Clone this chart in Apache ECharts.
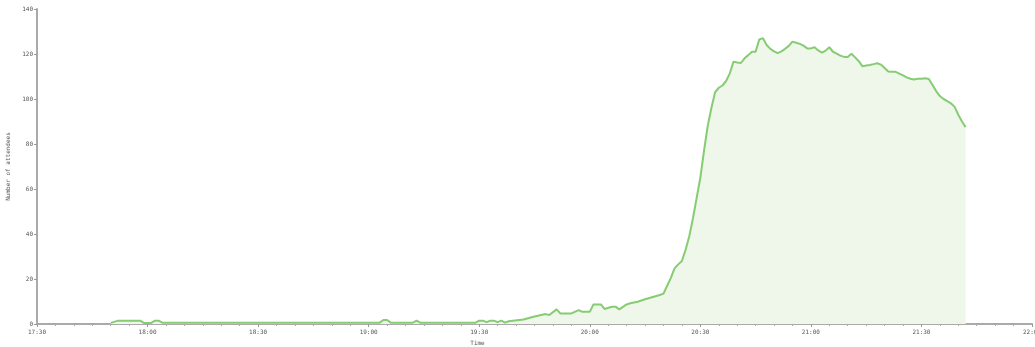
<!DOCTYPE html>
<html>
<head>
<meta charset="utf-8">
<script src="https://cdn.jsdelivr.net/npm/echarts@6/dist/echarts.min.js"></script>
<style>html,body{margin:0;padding:0;background:#fff}#c{width:1035px;height:347px}</style>
</head>
<body>
<div id="c"></div>
<script>
const times = ["17:50","17:52","17:58","17:59","18:01","18:02","18:03","18:04","18:20","18:40","19:00","19:03","19:04","19:05","19:06","19:12","19:13","19:14","19:20","19:29","19:30","19:31","19:32","19:33","19:34","19:35","19:36","19:37","19:38","19:42","19:45","19:48","19:49","19:51","19:52","19:55","19:57","19:58","20:00","20:01","20:03","20:04","20:06","20:07","20:08","20:10","20:11","20:13","20:15","20:19","20:20","20:21","20:22","20:23","20:24","20:25","20:26","20:27","20:28","20:29","20:30","20:31","20:32","20:33","20:34","20:35","20:36","20:37","20:38","20:39","20:40","20:41","20:42","20:43","20:44","20:45","20:46","20:47","20:48","20:49","20:50","20:51","20:52","20:53","20:54","20:55","20:56","20:57","20:58","20:59","21:00","21:01","21:02","21:03","21:04","21:05","21:06","21:07","21:08","21:09","21:10","21:11","21:12","21:13","21:14","21:15","21:16","21:17","21:18","21:19","21:20","21:21","21:22","21:23","21:24","21:25","21:26","21:27","21:28","21:29","21:30","21:31","21:32","21:33","21:34","21:35","21:36","21:37","21:38","21:39","21:40","21:41","21:42"];
const attendees = [0.5,1.5,1.5,0.5,0.5,1.5,1.5,0.6,0.6,0.6,0.6,0.6,1.8,1.8,0.6,0.6,1.5,0.6,0.6,0.6,1.5,1.5,0.8,1.5,1.5,0.8,1.5,0.6,1.2,2,3.3,4.4,4.0,6.5,4.7,4.7,6.2,5.4,5.4,8.7,8.7,6.7,7.7,7.7,6.5,8.7,9.2,9.9,11,12.9,13.5,17,20.5,24.7,26.5,28,33,39,47,56,65,77,88,96,103,105,106,108,111.4,116.6,116.2,116,118.1,119.5,121,121,126.5,127,124,122.3,121.2,120.4,121.2,122.3,123.6,125.5,125,124.5,123.7,122.5,122.5,123,121.6,120.6,121.5,123,121,120.2,119.3,118.7,118.7,120.1,118.5,116.8,114.5,114.9,115.1,115.5,115.9,115.3,113.8,112.2,112.1,112.1,111.3,110.5,109.6,109.0,108.7,109,109,109.2,108.9,106.2,103.5,101.3,100,99.1,98.1,96.5,93,90,87.5];
const yTicks = [0,20,40,60,80,100,120,140];

function toMin(s){const p=s.split(':');return (+p[0])*60+(+p[1]);}
function fmt(v){const h=Math.floor(v/60),m=v%60;return (h<10?'0':'')+h+':'+(m<10?'0':'')+m;}

const chart = echarts.init(document.getElementById('c'));
const lbl = {fontFamily:'DejaVu Sans Mono', fontSize:6, color:'#555'};
chart.setOption({
  animation:false,
  grid:{left:37,right:3,top:9,bottom:23,containLabel:false,outerBoundsMode:'none'},
  xAxis:{
    type:'value', min:toMin('17:30'), max:toMin('22:00'), interval:30,
    name:'Time', nameLocation:'middle', nameGap:16,
    nameTextStyle:Object.assign({}, lbl, {padding:[0,114,0,0]}),
    axisLine:{lineStyle:{color:'#aaa',width:2}},
    axisTick:{show:true,length:3,lineStyle:{color:'#999'}},
    minorTick:{show:true,splitNumber:6,length:2,lineStyle:{color:'#aaa'}},
    axisLabel:Object.assign({margin:5,formatter:fmt}, lbl),
    splitLine:{show:false}
  },
  yAxis:{
    type:'value', min:yTicks[0], max:yTicks[yTicks.length-1], interval:20,
    name:'Number of attendees', nameLocation:'middle', nameGap:26,
    nameTextStyle:lbl,
    axisLine:{show:true,lineStyle:{color:'#aaa',width:2}},
    axisTick:{show:true,length:3,lineStyle:{color:'#999'}},
    axisLabel:Object.assign({margin:4}, lbl),
    splitLine:{show:false}
  },
  series:[{
    type:'line', symbol:'none', smooth:false,
    data: times.map((t,i)=>[toMin(t), attendees[i]]),
    lineStyle:{color:'#86cc72',width:2},
    areaStyle:{color:'#eff7ea',opacity:1}
  }]
});
</script>
</body>
</html>
